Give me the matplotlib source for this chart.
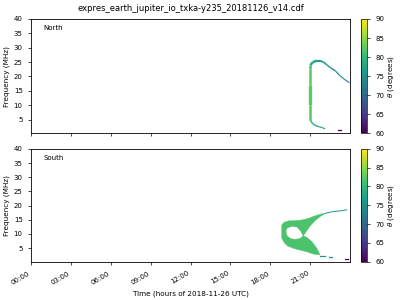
import matplotlib
matplotlib.use('Agg')
import matplotlib.pyplot as plt
import matplotlib.dates as mdates
from matplotlib.collections import LineCollection
from matplotlib import cm, colors
from datetime import datetime, timedelta
import numpy as np

day = datetime(2018, 11, 26)
title = 'expres_earth_jupiter_io_txka-y235_20181126_v14.cdf'
tick_hours = [0, 3, 6, 9, 12, 15, 18, 21]
freq_ticks = [5, 10, 15, 20, 25, 30, 35, 40]
theta_ticks = [60, 65, 70, 75, 80, 85, 90]

# North: one thin arc (hours, MHz, theta in degrees)
north_t = [22.1, 21.9, 21.6, 21.4, 21.2, 21.05, 21.0, 21.0, 21.0, 21.0,
           21.0, 21.2, 21.5, 21.7, 22.0, 22.2, 22.5, 22.9, 23.2, 23.6, 23.95]
north_f = [1.75, 2.2, 2.55, 2.9, 3.5, 4.4, 5.2, 10.0, 17.0, 22.5,
           23.9, 25.0, 25.5, 25.5, 25.0, 24.2, 23.1, 21.9, 20.4, 18.9, 17.8]
north_th = [75, 75.5, 76, 78, 80, 81, 82, 82.5, 82.5, 82,
            80, 78, 77, 76.5, 76, 75.5, 75, 74.5, 74, 73.5, 73]
north_lw = [0.8, 0.8, 1.0, 1.0, 1.2, 1.5, 1.8, 2.4, 1.8, 1.8,
            1.8, 1.8, 1.5, 1.3, 1.2, 1.0, 1.0, 0.9, 0.8, 0.8]
north_dash_t = [23.1, 23.3]
north_dash_f = [1.4, 1.4]
north_dash_th = 60.5

# South: filled emission region plus the empty pocket inside it
south_t = [18.86, 19.04, 19.36, 19.86, 20.37, 20.87, 21.37, 21.87, 22.12,
           21.74, 21.37, 20.99, 20.69, 20.49, 20.74, 21.12, 21.5, 21.74,
           21.24, 20.74, 20.24, 19.74, 19.28, 19.04, 18.86]
south_f = [13.2, 14.1, 14.6, 14.7, 14.9, 15.5, 16.4, 17.1, 17.2,
           16.1, 14.7, 12.8, 10.8, 9.3, 8.8, 7.3, 4.9, 2.6,
           2.9, 3.7, 4.3, 4.9, 5.8, 6.9, 8.5]
south_th = 81.5
hole_t = [19.28, 19.61, 19.99, 20.29, 20.44, 20.24, 19.86, 19.49, 19.24, 19.19]
hole_f = [12.0, 12.6, 12.4, 10.8, 9.3, 8.5, 8.1, 8.5, 9.6, 11.2]
south_tail_t = [22.12, 22.5, 23.0, 23.38, 23.75]
south_tail_f = [17.2, 17.7, 18.0, 18.2, 18.5]
south_tail_th = 75.5
south_bits_t = [[21.74, 22.12], [22.44, 22.62], [23.62, 23.87]]
south_bits_f = [[2.1, 2.1], [1.8, 1.8], [1.3, 1.3]]
south_bits_th = [75.5, 75, 60.5]


def to_dates(hours):
    return [mdates.date2num(day + timedelta(hours=h)) for h in hours]


cmap = plt.get_cmap('viridis')
norm = colors.Normalize(vmin=60, vmax=90)

fs = 5
fig = plt.figure(figsize=(4, 3), dpi=100)
ax1 = fig.add_axes([0.0775, 0.5557, 0.7975, 0.381])
ax2 = fig.add_axes([0.0775, 0.1277, 0.7975, 0.376], sharex=ax1)
cax1 = fig.add_axes([0.9025, 0.5557, 0.015, 0.381])
cax2 = fig.add_axes([0.9025, 0.1277, 0.015, 0.376])

# north arc
nx = to_dates(north_t)
pts = np.column_stack([nx, north_f])
segs = [pts[i:i + 2] for i in range(len(pts) - 1)]
th = [(north_th[i] + north_th[i + 1]) / 2 for i in range(len(pts) - 1)]
lc = LineCollection(segs, cmap=cmap, norm=norm, linewidths=north_lw, capstyle='butt')
lc.set_array(np.array(th))
ax1.add_collection(lc)
ax1.plot(to_dates(north_dash_t), north_dash_f, color=cmap(norm(north_dash_th)), lw=0.9)

# south blob
ax2.fill(to_dates(south_t), south_f, color=cmap(norm(south_th)), lw=0.3,
         ec=cmap(norm(south_th)))
ax2.fill(to_dates(hole_t), hole_f, color='white', lw=0)
ax2.plot(to_dates(south_tail_t), south_tail_f, color=cmap(norm(south_tail_th)), lw=0.7)
for bt, bf, bth in zip(south_bits_t, south_bits_f, south_bits_th):
    ax2.plot(to_dates(bt), bf, color=cmap(norm(bth)), lw=0.9)

for ax, name in [(ax1, 'North'), (ax2, 'South')]:
    ax.set_ylim(0.2, 40)
    ax.set_yticks(freq_ticks)
    ax.set_ylabel('Frequency (MHz)', fontsize=5.2)
    ax.yaxis.set_label_coords(-0.066, 0.5)
    ax.text(0.04, 0.9, name, transform=ax.transAxes, fontsize=fs)
    ax.tick_params(labelsize=fs, width=0.5, length=2.5)
    for s in ax.spines.values():
        s.set_linewidth(0.6)

ax1.set_xlim(mdates.date2num(day), mdates.date2num(day + timedelta(hours=23.99)))
ax2.xaxis.set_major_locator(mdates.HourLocator(byhour=tick_hours))
ax2.xaxis.set_major_formatter(mdates.DateFormatter('%H:%M'))
plt.setp(ax1.get_xticklabels(), visible=False)
plt.setp(ax2.get_xticklabels(), rotation=30, ha='right')
ax2.set_xlabel('Time (hours of 2018-11-26 UTC)', fontsize=5.2)
ax1.set_title(title, fontsize=6)

sm = cm.ScalarMappable(norm=norm, cmap=cmap)
for cax in (cax1, cax2):
    cb = fig.colorbar(sm, cax=cax, ticks=theta_ticks)
    cb.set_label(r'$\theta$ (degrees)', fontsize=5.2, labelpad=1)
    cb.ax.tick_params(labelsize=fs, width=0.5, length=2.5)
    cb.outline.set_linewidth(0.5)

fig.savefig('out.png', dpi=100)
